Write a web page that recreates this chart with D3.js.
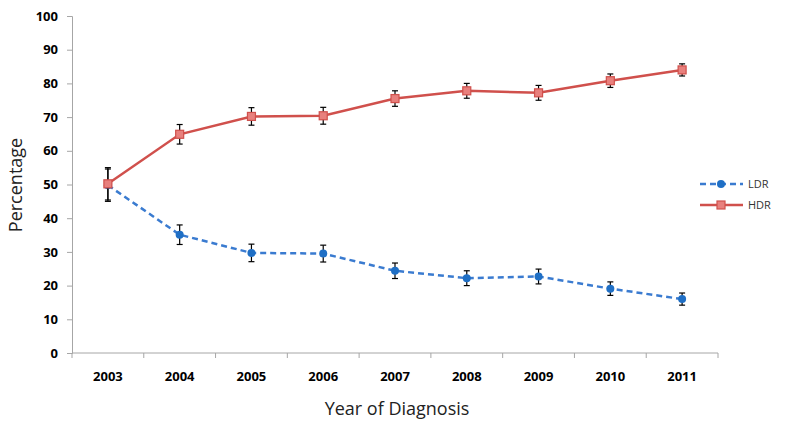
<!DOCTYPE html>
<html>
<head>
<meta charset="utf-8">
<script src="https://cdn.jsdelivr.net/npm/d3@7"></script>
<style>
  body { margin: 0; background: #fff; }
  svg text { font-family: "Open Sans", "Liberation Sans", sans-serif; }
</style>
</head>
<body>
<div id="chart"></div>
<script>
'use strict';

var years = ["2003", "2004", "2005", "2006", "2007", "2008", "2009", "2010", "2011"];
var ldrValues = [49.8, 35.1, 29.7, 29.5, 24.4, 22.2, 22.7, 19.1, 16.0];
var hdrValues = [50.2, 64.9, 70.2, 70.4, 75.5, 77.8, 77.2, 80.8, 84.0];
var errValues = [4.8, 2.9, 2.6, 2.5, 2.3, 2.2, 2.2, 2.0, 1.8];
var yTicks = [0, 10, 20, 30, 40, 50, 60, 70, 80, 90, 100];

drawChart();

function drawChart() {

    var svgWidth = 800, svgHeight = 431;
    var left = 72, right = 718, top = 16, bottom = 353;

    var svg = d3.select("#chart")
        .append("svg")
        .attr("width", svgWidth)
        .attr("height", svgHeight);

    var x = d3.scaleBand().domain(years).range([left, right]);
    var y = d3.scaleLinear().domain([0, 100]).range([bottom, top]);
    var cx = function (d, i) { return x(years[i]) + x.bandwidth() / 2; };

    // y axis
    var yAxis = svg.append("g")
        .attr("transform", "translate(" + left + ",0)")
        .call(d3.axisLeft(y).tickValues(yTicks).tickSize(5).tickPadding(9));
    yAxis.selectAll("line, path").attr("stroke", "#a6a6a6");
    yAxis.selectAll("text")
        .style("font-size", "13px")
        .style("font-weight", "bold")
        .attr("fill", "#000");

    // x axis, ticks between categories
    var xAxis = svg.append("g")
        .attr("transform", "translate(0," + bottom + ")");
    xAxis.append("line")
        .attr("x1", left).attr("x2", right)
        .attr("stroke", "#a6a6a6");
    xAxis.selectAll(".sep")
        .data(d3.range(years.length + 1))
        .enter().append("line")
        .attr("x1", function (i) { return left + i * x.step(); })
        .attr("x2", function (i) { return left + i * x.step(); })
        .attr("y1", 0).attr("y2", 5)
        .attr("stroke", "#a6a6a6");
    xAxis.selectAll(".lbl")
        .data(years)
        .enter().append("text")
        .attr("x", function (d) { return x(d) + x.bandwidth() / 2; })
        .attr("y", 28)
        .attr("text-anchor", "middle")
        .style("font-size", "13px")
        .style("font-weight", "bold")
        .text(function (d) { return d; });

    // axis titles
    svg.append("text")
        .attr("transform", "translate(22,185) rotate(-90)")
        .attr("text-anchor", "middle")
        .style("font-size", "18px")
        .attr("fill", "#222")
        .text("Percentage");
    svg.append("text")
        .attr("x", 397).attr("y", 415)
        .attr("text-anchor", "middle")
        .style("font-size", "18px")
        .attr("fill", "#222")
        .text("Year of Diagnosis");

    var line = d3.line()
        .x(cx)
        .y(function (d) { return y(d); });

    var series = [
        { name: "LDR", values: ldrValues, color: "#3a7bd0", dash: "6,4", marker: "circle", fill: "#1f6fc5" },
        { name: "HDR", values: hdrValues, color: "#d0504c", dash: null, marker: "square", fill: "#e8807d" }
    ];

    series.forEach(function (s, k) {
        svg.append("path")
            .datum(s.values)
            .attr("d", line)
            .attr("fill", "none")
            .attr("stroke", s.color)
            .attr("stroke-width", 2.5)
            .attr("stroke-dasharray", s.dash);

        // error bars
        var eb = svg.append("g").attr("stroke", "#000").attr("stroke-width", 1.2);
        s.values.forEach(function (v, i) {
            var px = cx(v, i);
            var y1 = y(v + errValues[i]), y2 = y(v - errValues[i]);
            eb.append("line").attr("x1", px).attr("x2", px).attr("y1", y1).attr("y2", y2);
            eb.append("line").attr("x1", px - 3).attr("x2", px + 3).attr("y1", y1).attr("y2", y1);
            eb.append("line").attr("x1", px - 3).attr("x2", px + 3).attr("y1", y2).attr("y2", y2);
        });

        drawMarkers(svg.append("g"), s, s.values.map(function (v, i) {
            return [cx(v, i), y(v)];
        }));

        // legend
        var ly = 184 + k * 21;
        svg.append("line")
            .attr("x1", 700).attr("x2", 743)
            .attr("y1", ly).attr("y2", ly)
            .attr("stroke", s.color)
            .attr("stroke-width", 2.5)
            .attr("stroke-dasharray", s.dash);
        drawMarkers(svg.append("g"), s, [[721, ly]]);
        svg.append("text")
            .attr("x", 748).attr("y", ly + 4)
            .style("font-size", "11px")
            .attr("fill", "#333")
            .text(s.name);
    });

    function drawMarkers(g, s, pts) {
        if (s.marker === "circle") {
            g.selectAll("circle").data(pts).enter().append("circle")
                .attr("cx", function (p) { return p[0]; })
                .attr("cy", function (p) { return p[1]; })
                .attr("r", 4)
                .attr("fill", s.fill);
        } else {
            g.selectAll("rect").data(pts).enter().append("rect")
                .attr("x", function (p) { return p[0] - 4; })
                .attr("y", function (p) { return p[1] - 4; })
                .attr("width", 8).attr("height", 8)
                .attr("fill", s.fill)
                .attr("stroke", s.color)
                .attr("stroke-width", 1.2);
        }
    }
}
</script>
</body>
</html>
